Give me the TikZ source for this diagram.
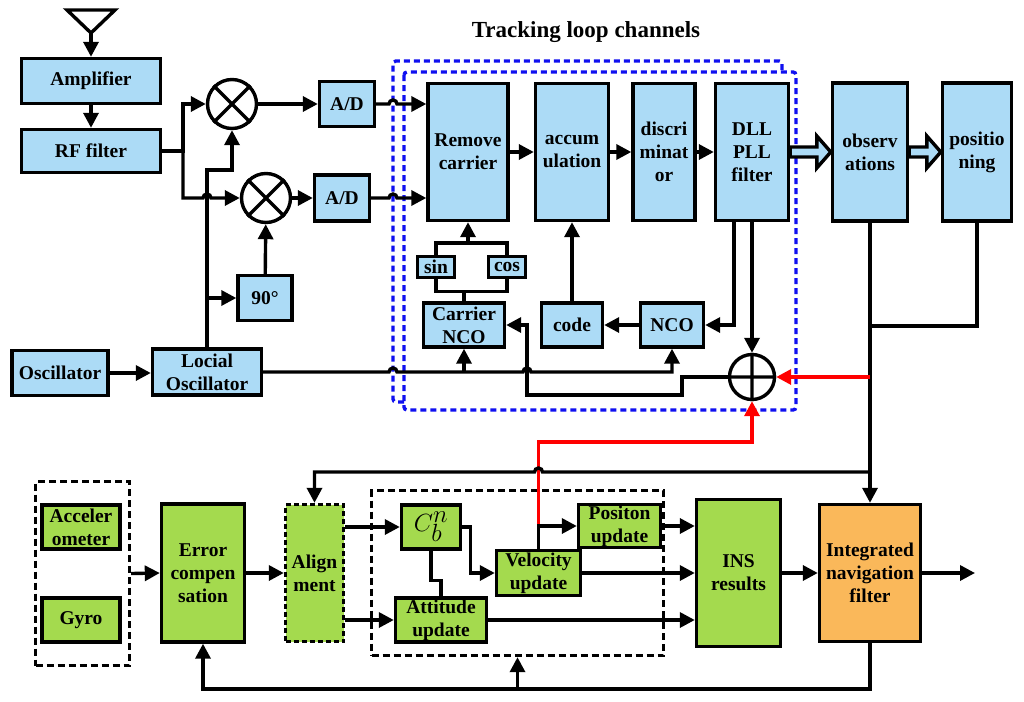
\documentclass[tikz,border=0pt]{standalone}
\usepackage{fontspec}
\setmainfont{Liberation Serif}
\usetikzlibrary{arrows.meta}
\definecolor{lightblue}{HTML}{ACDBF6}
\definecolor{lightgreen}{HTML}{A4DA4E}
\definecolor{lightorange}{HTML}{FAB85A}
\definecolor{chanblue}{HTML}{1010F0}
\newcommand{\fatarr}[2]{\draw[fill=lightblue] ([yshift=5pt]#1.east) -- ([xshift=-14pt,yshift=5pt]#2.west) -- ([xshift=-14pt,yshift=16pt]#2.west) -- (#2.west) -- ([xshift=-14pt,yshift=-16pt]#2.west) -- ([xshift=-14pt,yshift=-5pt]#2.west) -- ([yshift=-5pt]#1.east) -- cycle;}
\begin{document}
\begin{tikzpicture}[x=1pt,y=-1pt,line width=3.4pt,>={Triangle[length=15pt,width=15pt]},
    every node/.style={font=\bfseries\fontsize{19.5}{23}\selectfont,align=center,inner sep=0pt},
    bluebox/.style 2 args={draw,fill=lightblue,minimum width=#1,minimum height=#2},
    greenbox/.style 2 args={draw,fill=lightgreen,minimum width=#1,minimum height=#2},
    orangebox/.style 2 args={draw,fill=lightorange,minimum width=#1,minimum height=#2},
    groupbox/.style 2 args={draw,dash pattern=on 7pt off 4pt,minimum width=#1,minimum height=#2},
    chan/.style={draw=chanblue,dash pattern=on 6pt off 4pt,rounded corners=3pt},
    mixer/.style={circle,draw,minimum size=#1}]
      \useasboundingbox (0,0) rectangle (1024,701);
      \node (title) at (586,32) [font=\bfseries\fontsize{23}{27}\selectfont] {Tracking loop channels};
      \draw[chan] (404,402) -- (393,402) -- (393,61) -- (782,61) -- (782,72);
      \draw[chan] (404,72) rectangle (796,410);
      \draw (67,10) -- (115,10) -- (91,33) -- cycle;
      \coordinate (ant) at (91,33);
      \draw
        (91,81) node[bluebox={139}{45}] (amp) {Amplifier}
        (91,151) node[bluebox={139}{43}] (rf) {RF filter}
        (347,104) node[bluebox={55}{45}] (ad1) {A/D}
        (342,198) node[bluebox={55}{46}] (ad2) {A/D}
        (265,298) node[bluebox={54}{45}] (deg) {90°}
        (60,373) node[bluebox={96}{45}] (osc) {Oscillator}
        (207,372) node[bluebox={109}{46}] (lo) {Locial\\Oscillator};
      \draw
        (232,104) node[mixer=49] (mix1) {}
        (266,198) node[mixer=49] (mix2) {}
        (752,377) node[mixer=45] (add) {};
      \draw
        (468,152) node[bluebox={80}{137}] (rmc) {Remove\\carrier}
        (572,152) node[bluebox={73}{137}] (acc) {accum\\ulation}
        (664,152) node[bluebox={62}{137}] (dis) {discri\\minat\\or}
        (752,152) node[bluebox={73}{137}] (dll) {DLL\\PLL\\filter}
        (436,267) node[bluebox={37}{21}] (sin) {sin}
        (507,267) node[bluebox={37}{21}] (cos) {cos}
        (464,325) node[bluebox={81}{44}] (cnco) {Carrier\\NCO}
        (572,325) node[bluebox={61}{44}] (code) {code}
        (672,325) node[bluebox={63}{44}] (nco) {NCO}
        (870,152) node[bluebox={75}{138}] (obs) {observ\\ations}
        (977,152) node[bluebox={69}{138}] (pos) {positio\\ning};
      \draw
        (82.5,573.5) node[groupbox={94}{184}] (imu) {}
        (517.5,573) node[groupbox={292}{165}] (nav) {};
      \draw
        (81,527) node[greenbox={78}{44}] (acl) {Acceler\\ometer}
        (81,620) node[greenbox={78}{44}] (gyro) {Gyro}
        (203,573) node[greenbox={83}{138}] (err) {Error\\compen\\sation}
        (314.5,573) node[greenbox={58}{137},dash pattern=on 5pt off 3pt] (aln) {Align\\ment}
        (431,527) node[greenbox={59}{44},font=\fontsize{33}{33}\selectfont] (cbn) {$C_b^n$}
        (538.5,573) node[greenbox={84}{45}] (vel) {Velocity\\update}
        (619.5,526) node[greenbox={82}{43}] (ppos) {Positon\\update}
        (441,620) node[greenbox={91}{44}] (att) {Attitude\\update}
        (738.5,573) node[greenbox={84}{147}] (ins) {INS\\results}
        (870,573) node[orangebox={101}{137}] (inf) {Integrated\\navigation\\filter};
      \coordinate (out) at (975,573);
      \draw
        (mix1.north west) -- (mix1.south east) (mix1.north east) -- (mix1.south west)
        (mix2.north west) -- (mix2.south east) (mix2.north east) -- (mix2.south west)
        (add.north) -- (add.south) (add.west) -- (add.east);
      \draw[->] (ant) -- (amp.north);
      \draw[->] (amp) -- (rf);
      \draw[->] (rf.east) -- (183,151) |- (mix1.west);
      \draw[->] (183,151) |- (203,198) arc[start angle=180,end angle=0,radius=4pt] -- (mix2.west);
      \draw[->] (mix1) -- (ad1);
      \draw[->] (mix2) -- (ad2);
      \draw[->] (lo.north) -- (207,170) -| (mix1.south);
      \draw[->] (lo.north |- deg.west) -- (deg.west);
      \draw[->] (deg) -- (mix2);
      \draw[->] (osc.east) -- (osc.east -| lo.west);
      \draw[->] (ad1.east) -- (389,104) arc[start angle=180,end angle=0,radius=4pt] -- (ad1.east -| rmc.west);
      \draw[->] (ad2.east) -- (389,198) arc[start angle=180,end angle=0,radius=4pt] -- (ad2.east -| rmc.west);
      \draw[->] (lo.east) -- (389,372) arc[start angle=180,end angle=0,radius=4pt] -- (523,372) arc[start angle=180,end angle=0,radius=4pt] -- (nco.south |- lo.east) -- (nco.south);
      \draw[->] (cnco.south |- lo.east) -- (cnco.south);
      \draw[->] (rmc) -- (acc);
      \draw[->] (acc) -- (dis);
      \draw[->] (dis) -- (dll);
      \draw (sin.north) -- ++(0,-12) -| (cos.north);
      \draw[->] (rmc.south |- 0,244.5) -- (rmc.south);
      \draw (sin.south) -- ++(0,12) -| (cos.south);
      \draw (cnco.north) -- (cnco.north |- 0,289.5);
      \draw[->] (code) -- (acc);
      \draw[->] (nco) -- (code);
      \draw[->] ([xshift=20pt]dll.south west) |- (nco.east);
      \draw[->] (dll) -- (add);
      \draw[->] (add.west) -- (682,377) |- (527,395) |- (cnco.east);
      \fatarr{dll}{obs}
      \fatarr{obs}{pos}
      \draw[->] (obs) -- (inf);
      \draw (pos.south) |- (obs.south |- 0,326);
      \draw[red,->] (obs.south |- add.east) -- (add.east);
      \draw[red,->] (vel.north |- ppos.west) -- (vel.north |- 0,442) -| (add.south);
      \draw[->] (obs.south |- 0,472) -- (542.5,472) arc[start angle=0,end angle=180,radius=4pt] -- (aln.north |- 0,472) -- (aln.north);
      \draw[->] (imu.east) -- (err.west);
      \draw[->] (err) -- (aln);
      \draw[->] (aln.east |- cbn.west) -- (cbn.west);
      \draw[->] (aln.east |- att.west) -- (att.west);
      \draw[->] (cbn.east) -- ++(8,0) |- (vel.west);
      \draw (cbn.south) -- ++(0,30) -| (att.north);
      \draw[->] (vel.north) |- (ppos.west);
      \draw[->] (ppos.east) -- (ppos.east -| ins.west);
      \draw[->] (vel.east) -- (vel.east -| ins.west);
      \draw[->] (att.east) -- (att.east -| ins.west);
      \draw[->] (ins) -- (inf);
      \draw[->] (inf.east) -- (out);
      \draw[->] (inf.south) -- (inf.south |- 0,689) -| (err.south);
      \draw[->] (nav.south |- 0,689) -- (nav.south);
\end{tikzpicture}
\end{document}
